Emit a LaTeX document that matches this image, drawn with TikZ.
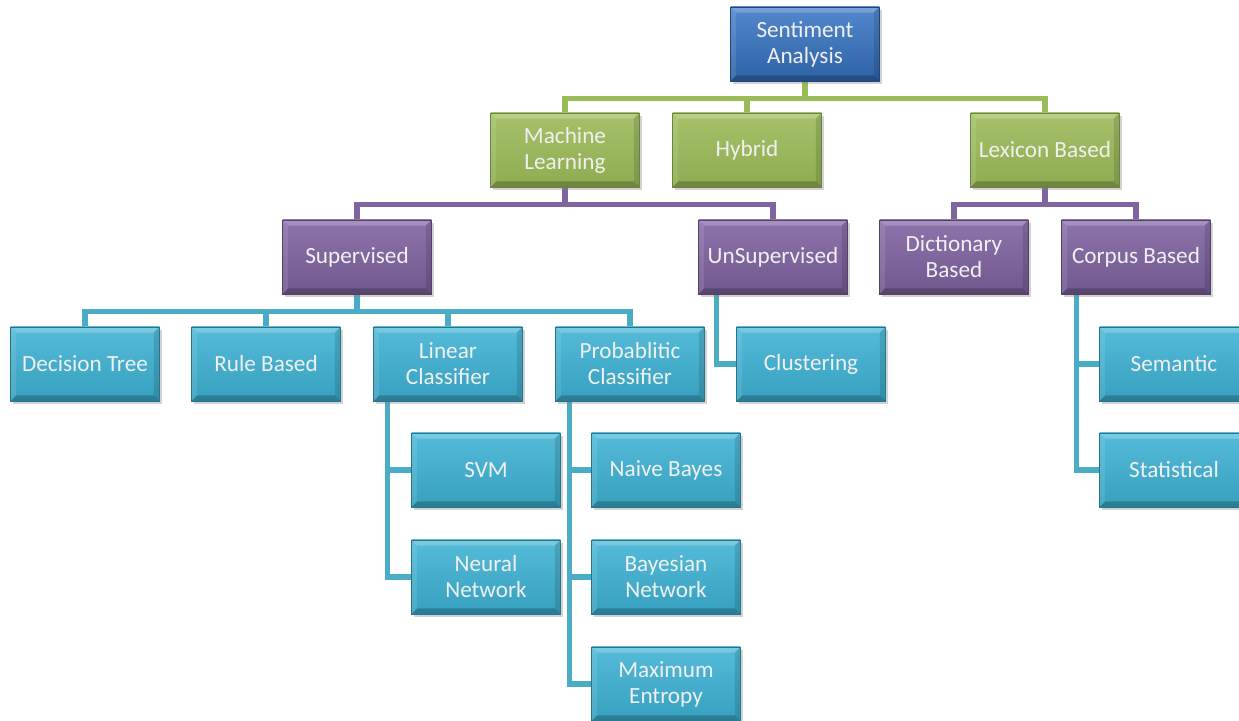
\documentclass[tikz,border=0pt]{standalone}
\usepackage{fontspec}
\setmainfont{Carlito}
\usetikzlibrary{shadows,calc,backgrounds}

\definecolor{sablue}{HTML}{3573C4}
\definecolor{mlgreen}{HTML}{9BBB59}
\definecolor{subpurple}{HTML}{8064A2}
\definecolor{leafaqua}{HTML}{3DB2D4}
\definecolor{leafline}{HTML}{4BACC6}

\begin{document}
\begin{tikzpicture}[
    x=0.025cm, y=-0.025cm,
    box/.style={rectangle, minimum width=3.72cm, minimum height=1.85cm, inner sep=0pt,
        align=center, text=white!94!black, font=\fontsize{16.5}{18.5}\selectfont,
        drop shadow={shadow xshift=1.5pt, shadow yshift=-2pt, opacity=0.35},
        path picture={
            \fill[white, opacity=0.22] (path picture bounding box.north west) -- (path picture bounding box.north east)
                -- ([shift={(-4pt,-4pt)}]path picture bounding box.north east) -- ([shift={(4pt,-4pt)}]path picture bounding box.north west) -- cycle;
            \fill[black, opacity=0.22] (path picture bounding box.south west) -- (path picture bounding box.south east)
                -- ([shift={(-4pt,4pt)}]path picture bounding box.south east) -- ([shift={(4pt,4pt)}]path picture bounding box.south west) -- cycle;
            \fill[white, opacity=0.10] (path picture bounding box.north west) -- ([shift={(4pt,-4pt)}]path picture bounding box.north west)
                -- ([shift={(4pt,4pt)}]path picture bounding box.south west) -- (path picture bounding box.south west) -- cycle;
            \fill[black, opacity=0.12] (path picture bounding box.north east) -- ([shift={(-4pt,-4pt)}]path picture bounding box.north east)
                -- ([shift={(-4pt,4pt)}]path picture bounding box.south east) -- (path picture bounding box.south east) -- cycle;
        }},
    rootbox/.style={box, top color=sablue!85!white, bottom color=sablue!85!black, draw=sablue!60!black, line width=0.4pt},
    methodbox/.style={box, top color=mlgreen!90!white, bottom color=mlgreen!92!black, draw=mlgreen!70!black, line width=0.4pt},
    groupbox/.style={box, top color=subpurple!90!white, bottom color=subpurple!88!black, draw=subpurple!65!black, line width=0.4pt},
    leafbox/.style={box, top color=leafaqua!88!white, bottom color=leafaqua!90!black, draw=leafaqua!65!black, line width=0.4pt},
    glink/.style={draw=mlgreen, line width=3.6pt},
    plink/.style={draw=subpurple, line width=3.6pt},
    tlink/.style={draw=leafline, line width=3.6pt}
]
\useasboundingbox (0,0) rectangle (1239,721);

% Root
\node[rootbox] (sa) at (805,44) {Sentiment\\Analysis};

% Approaches
\node[methodbox] (ml) at (565,150) {Machine\\Learning};
\node[methodbox] (hy) at (747,150) {Hybrid};
\node[methodbox] (lex) at (1045,150) {Lexicon Based};

% Sub approaches
\node[groupbox] (sup) at (357,257) {Supervised};
\node[groupbox] (unsup) at (773,257) {UnSupervised};
\node[groupbox] (dict) at (954,257) {Dictionary\\Based};
\node[groupbox] (corp) at (1136,257) {Corpus Based};

% Supervised methods
\node[leafbox] (dt) at (85,364) {Decision Tree};
\node[leafbox] (rb) at (266,364) {Rule Based};
\node[leafbox] (lc) at (448,364) {Linear\\Classifier};
\node[leafbox] (pc) at (630,364) {Probablitic\\Classifier};
\node[leafbox] (clu) at (811,364) {Clustering};

% Linear / probabilistic leaves
\node[leafbox] (svm) at (486,470) {SVM};
\node[leafbox] (nn) at (486,577) {Neural\\Network};
\node[leafbox] (nb) at (666,470) {Naive Bayes};
\node[leafbox] (bn) at (666,577) {Bayesian\\Network};
\node[leafbox] (me) at (666,684) {Maximum\\Entropy};

% Corpus based leaves
\node[leafbox] (sem) at (1174,364) {Semantic};
\node[leafbox] (stat) at (1174,470) {Statistical};

% Connectors
\begin{scope}[on background layer]
\draw[glink] (sa.south) -- ++(0,17) -| (ml.north);
\draw[glink] (sa.south) -- ++(0,17) -| (hy.north);
\draw[glink] (sa.south) -- ++(0,17) -| (lex.north);

\draw[plink] (ml.south) -- ++(0,17) -| (sup.north);
\draw[plink] (ml.south) -- ++(0,17) -| (unsup.north);
\draw[plink] (lex.south) -- ++(0,17) -| (dict.north);
\draw[plink] (lex.south) -- ++(0,17) -| (corp.north);

\draw[tlink] (sup.south) -- ++(0,17) -| (dt.north);
\draw[tlink] (sup.south) -- ++(0,17) -| (rb.north);
\draw[tlink] (sup.south) -- ++(0,17) -| (lc.north);
\draw[tlink] (sup.south) -- ++(0,17) -| (pc.north);

\draw[tlink] ($(unsup.south west)+(18,0)$) |- (clu.west);
\draw[tlink] ($(lc.south west)+(14,0)$) |- (svm.west);
\draw[tlink] ($(lc.south west)+(14,0)$) |- (nn.west);
\draw[tlink] ($(pc.south west)+(14,0)$) |- (nb.west);
\draw[tlink] ($(pc.south west)+(14,0)$) |- (bn.west);
\draw[tlink] ($(pc.south west)+(14,0)$) |- (me.west);
\draw[tlink] ($(corp.south west)+(15,0)$) |- (sem.west);
\draw[tlink] ($(corp.south west)+(15,0)$) |- (stat.west);
\end{scope}

\end{tikzpicture}
\end{document}
